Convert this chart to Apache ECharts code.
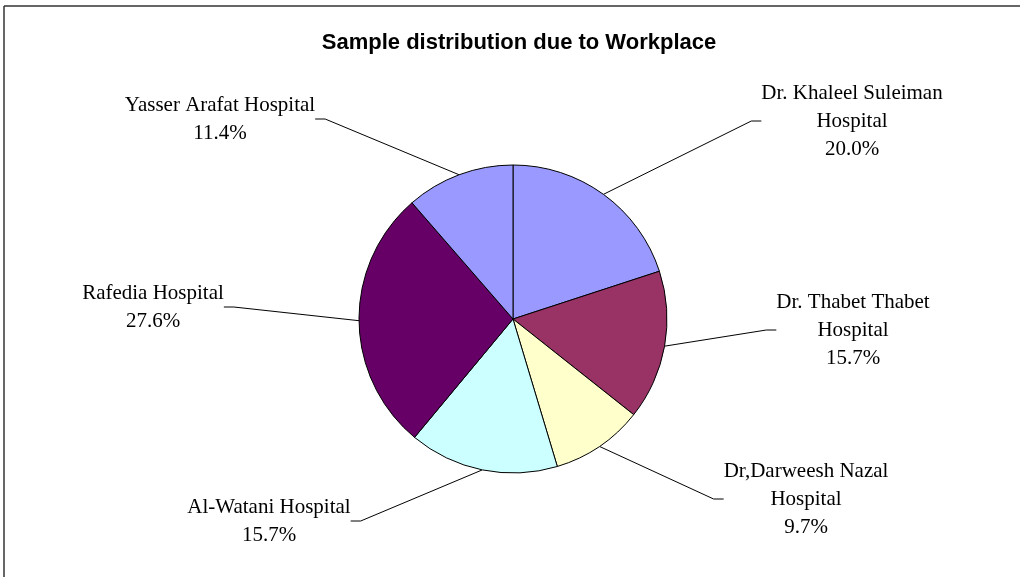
<!DOCTYPE html>
<html>
<head>
<meta charset="utf-8">
<script src="https://cdn.jsdelivr.net/npm/echarts@6/dist/echarts.min.js"></script>
<style>
  html, body { margin: 0; padding: 0; background: #fff; }
  #main { width: 1020px; height: 577px; }
</style>
</head>
<body>
<div id="main"></div>
<script>
// hospitals, clockwise from 12 o'clock
var hospitals = [
  'Dr. Khaleel Suleiman\nHospital',
  'Dr. Thabet Thabet\nHospital',
  'Dr,Darweesh Nazal\nHospital',
  'Al-Watani Hospital',
  'Rafedia Hospital',
  'Yasser Arafat Hospital'
];
var percents = [20.0, 15.7, 9.7, 15.7, 27.6, 11.4];
var colors = ['#9999FF', '#993366', '#FFFFCC', '#CCFFFF', '#660066', '#9999FF'];

// where the labels sit (centre of text block)
var labelPos = [[852, 121], [853, 330], [806, 499], [269, 521], [153, 307], [220, 119]];

var chartDom = document.getElementById('main');
var myChart = echarts.init(chartDom);

var pieData = hospitals.map(function (n, i) {
  return { name: n, value: percents[i], itemStyle: { color: colors[i] } };
});

var option = {
  animation: false,
  backgroundColor: '#fff',
  title: {
    text: 'Sample distribution due to Workplace',
    left: 514,
    top: 27,
    textAlign: 'center',
    textStyle: { fontFamily: 'Liberation Sans', fontSize: 22, fontWeight: 'bold', color: '#000' }
  },
  graphic: [
    { type: 'line', shape: { x1: 4, y1: 6, x2: 1020, y2: 6 }, style: { stroke: '#333', lineWidth: 1.5 } },
    { type: 'line', shape: { x1: 4, y1: 6, x2: 4, y2: 577 }, style: { stroke: '#333', lineWidth: 1.5 } }
  ],
  series: [{
    type: 'pie',
    center: [513, 319],
    radius: 154,
    startAngle: 90,
    clockwise: true,
    data: pieData,
    itemStyle: { borderColor: '#000', borderWidth: 1 },
    emphasis: { disabled: true },
    label: {
      show: true,
      fontFamily: 'Liberation Serif',
      fontSize: 21,
      lineHeight: 28,
      color: '#000',
      align: 'center',
      formatter: function (p) { return p.name + '\n' + p.value.toFixed(1) + '%'; }
    },
    labelLine: {
      show: true,
      length: 20,
      length2: 10,
      lineStyle: { color: '#000', width: 1 }
    },
    labelLayout: function (params) {
      var pos = labelPos[params.dataIndex];
      return { x: pos[0], y: pos[1], align: 'center', verticalAlign: 'middle' };
    }
  }]
};

option && myChart.setOption(option);
</script>
</body>
</html>
